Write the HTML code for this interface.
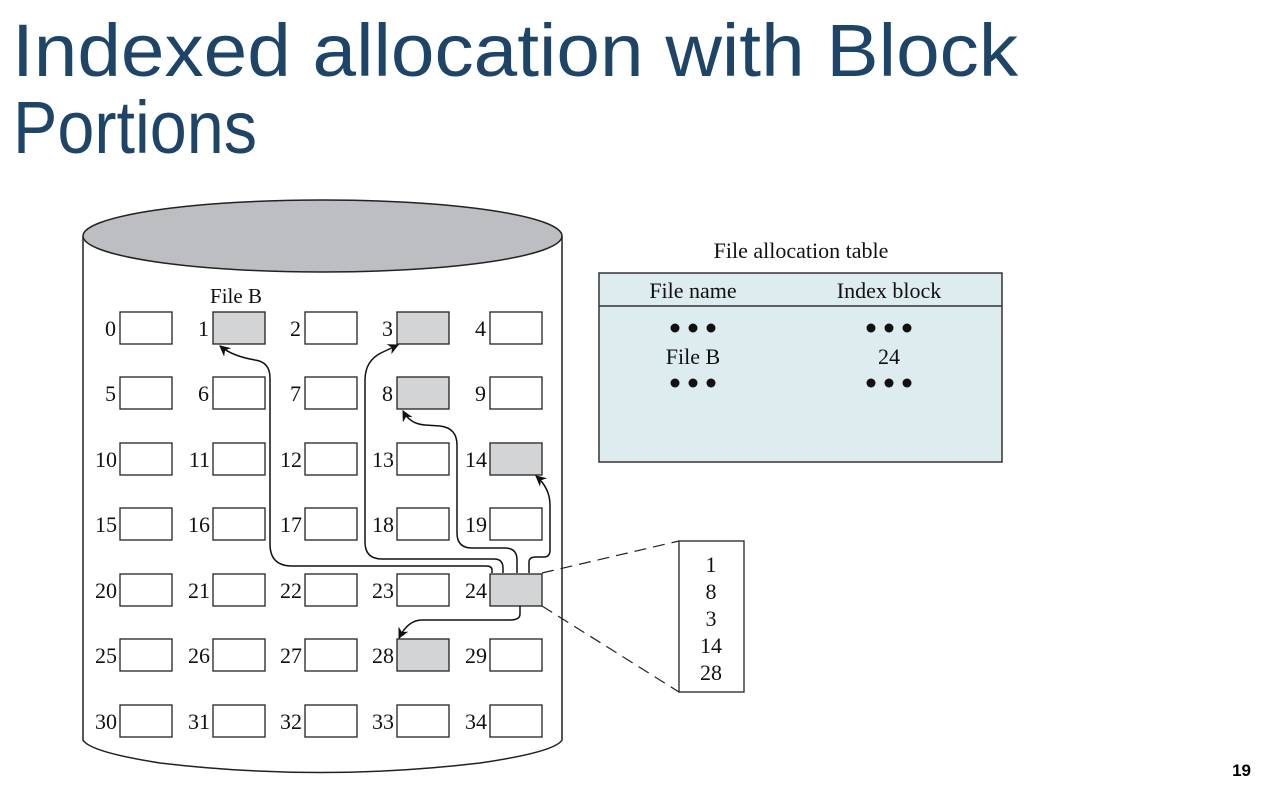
<!DOCTYPE html>
<html><head><meta charset="utf-8"><style>
html,body{margin:0;padding:0;background:#fff;}
svg{display:block}
</style></head><body>
<svg width="1264" height="792" viewBox="0 0 1264 792" xmlns="http://www.w3.org/2000/svg">
<defs>
<marker id="ah" viewBox="0 0 10 10" refX="9" refY="5" markerWidth="13" markerHeight="11" orient="auto-start-reverse" markerUnits="userSpaceOnUse">
<path d="M0,0 L10,5 L0,10 L3,5 z" fill="#111"/>
</marker>
</defs>
<g font-family="'Liberation Sans','DejaVu Sans',sans-serif" fill="#1e4468" font-size="74">
<text x="12" y="76" textLength="1006" lengthAdjust="spacingAndGlyphs">Indexed allocation with Block</text>
<text x="13" y="153" textLength="244" lengthAdjust="spacingAndGlyphs">Portions</text>
</g>
<text x="1251" y="776" font-family="'Liberation Sans',sans-serif" font-weight="bold" font-size="17" text-anchor="end" fill="#000">19</text>

<!-- cylinder -->
<path d="M83,236 L83,740 Q90,752 160,763 Q320,782 480,763 Q555,752 562,740 L562,236" fill="#fff" stroke="#222" stroke-width="1.5"/>
<ellipse cx="322.5" cy="236" rx="239.5" ry="36" fill="#bdbec1" stroke="#222" stroke-width="1.5"/>

<g font-family="'Liberation Serif',serif" font-size="21" fill="#111">
<text x="236" y="303" text-anchor="middle">File B</text>
</g>

<g stroke="#222" stroke-width="1.3" fill="#fff">
<rect x="120" y="312" width="52" height="32"/><rect x="213" y="312" width="52" height="32" fill="#d3d4d6"/><rect x="305" y="312" width="52" height="32"/><rect x="397" y="312" width="52" height="32" fill="#d3d4d6"/><rect x="490" y="312" width="52" height="32"/>
<rect x="120" y="377" width="52" height="32"/><rect x="213" y="377" width="52" height="32"/><rect x="305" y="377" width="52" height="32"/><rect x="397" y="377" width="52" height="32" fill="#d3d4d6"/><rect x="490" y="377" width="52" height="32"/>
<rect x="120" y="443" width="52" height="32"/><rect x="213" y="443" width="52" height="32"/><rect x="305" y="443" width="52" height="32"/><rect x="397" y="443" width="52" height="32"/><rect x="490" y="443" width="52" height="32" fill="#d3d4d6"/>
<rect x="120" y="508" width="52" height="32"/><rect x="213" y="508" width="52" height="32"/><rect x="305" y="508" width="52" height="32"/><rect x="397" y="508" width="52" height="32"/><rect x="490" y="508" width="52" height="32"/>
<rect x="120" y="574" width="52" height="32"/><rect x="213" y="574" width="52" height="32"/><rect x="305" y="574" width="52" height="32"/><rect x="397" y="574" width="52" height="32"/><rect x="490" y="574" width="52" height="32" fill="#d3d4d6"/>
<rect x="120" y="639" width="52" height="32"/><rect x="213" y="639" width="52" height="32"/><rect x="305" y="639" width="52" height="32"/><rect x="397" y="639" width="52" height="32" fill="#d3d4d6"/><rect x="490" y="639" width="52" height="32"/>
<rect x="120" y="705" width="52" height="32"/><rect x="213" y="705" width="52" height="32"/><rect x="305" y="705" width="52" height="32"/><rect x="397" y="705" width="52" height="32"/><rect x="490" y="705" width="52" height="32"/>
</g>

<g font-family="'Liberation Serif',serif" font-size="22" fill="#111" text-anchor="end">
<text x="116" y="336">0</text><text x="209" y="336">1</text><text x="301" y="336">2</text><text x="393" y="336">3</text><text x="486" y="336">4</text>
<text x="116" y="401">5</text><text x="209" y="401">6</text><text x="301" y="401">7</text><text x="393" y="401">8</text><text x="486" y="401">9</text>
<text x="117" y="467">10</text><text x="210" y="467">11</text><text x="302" y="467">12</text><text x="394" y="467">13</text><text x="487" y="467">14</text>
<text x="117" y="532">15</text><text x="210" y="532">16</text><text x="302" y="532">17</text><text x="394" y="532">18</text><text x="487" y="532">19</text>
<text x="117" y="598">20</text><text x="210" y="598">21</text><text x="302" y="598">22</text><text x="394" y="598">23</text><text x="487" y="598">24</text>
<text x="117" y="663">25</text><text x="210" y="663">26</text><text x="302" y="663">27</text><text x="394" y="663">28</text><text x="487" y="663">29</text>
<text x="117" y="729">30</text><text x="210" y="729">31</text><text x="302" y="729">32</text><text x="394" y="729">33</text><text x="487" y="729">34</text>
</g>

<!-- arrows -->
<g fill="none" stroke="#111" stroke-width="1.5">
<path d="M492,573 L492,570 Q492,566 486,566 L292,566 Q270,566 270,544 L270,378 Q270,362 255,360 Q232,356 220,346" marker-end="url(#ah)"/>
<path d="M503,573 L503,568 Q503,559 494,559 L382,559 Q365,559 365,542 L365,380 Q365,360 383,352 L398,345" marker-end="url(#ah)"/>
<path d="M517,573 L517,560 Q517,548 505,548 L472,548 Q457,548 457,533 L457,445 Q457,428 440,426 L425,425 Q410,424 403,411" marker-end="url(#ah)"/>
<path d="M529,573 L529,562 Q529,557 536,557 L544,557 Q550,557 550,550 L550,505 Q550,488 536,476" marker-end="url(#ah)"/>
<path d="M520,606 L520,614 Q520,620 510,620 L422,620 Q408,620 399,638" marker-end="url(#ah)"/>
</g>

<!-- dashed -->
<g stroke="#222" stroke-width="1.2" stroke-dasharray="12,7">
<line x1="542" y1="573" x2="679" y2="541"/>
<line x1="542" y1="606" x2="679" y2="692"/>
</g>
<rect x="679" y="541" width="65" height="151" fill="#fff" stroke="#222" stroke-width="1.3"/>
<g font-family="'Liberation Serif',serif" font-size="22" fill="#111" text-anchor="middle">
<text x="711" y="572">1</text><text x="711" y="599">8</text><text x="711" y="626">3</text><text x="711" y="653">14</text><text x="711" y="680">28</text>
</g>

<!-- table -->
<text x="801" y="258" font-family="'Liberation Serif',serif" font-size="22" fill="#111" text-anchor="middle">File allocation table</text>
<rect x="599" y="273" width="403" height="189" fill="#ddecee" stroke="#333" stroke-width="1.5"/>
<line x1="599" y1="306" x2="1002" y2="306" stroke="#333" stroke-width="1.5"/>
<g font-family="'Liberation Serif',serif" font-size="22" fill="#111" text-anchor="middle">
<text x="693" y="298">File name</text><text x="889" y="298">Index block</text>
<text x="693" y="364">File B</text><text x="889" y="364">24</text>
</g>
<g fill="#111">
<circle cx="675" cy="328" r="4.5"/><circle cx="693" cy="328" r="4.5"/><circle cx="711" cy="328" r="4.5"/>
<circle cx="871" cy="328" r="4.5"/><circle cx="889" cy="328" r="4.5"/><circle cx="907" cy="328" r="4.5"/>
<circle cx="675" cy="383" r="4.5"/><circle cx="693" cy="383" r="4.5"/><circle cx="711" cy="383" r="4.5"/>
<circle cx="871" cy="383" r="4.5"/><circle cx="889" cy="383" r="4.5"/><circle cx="907" cy="383" r="4.5"/>
</g>
</svg>
</body></html>
